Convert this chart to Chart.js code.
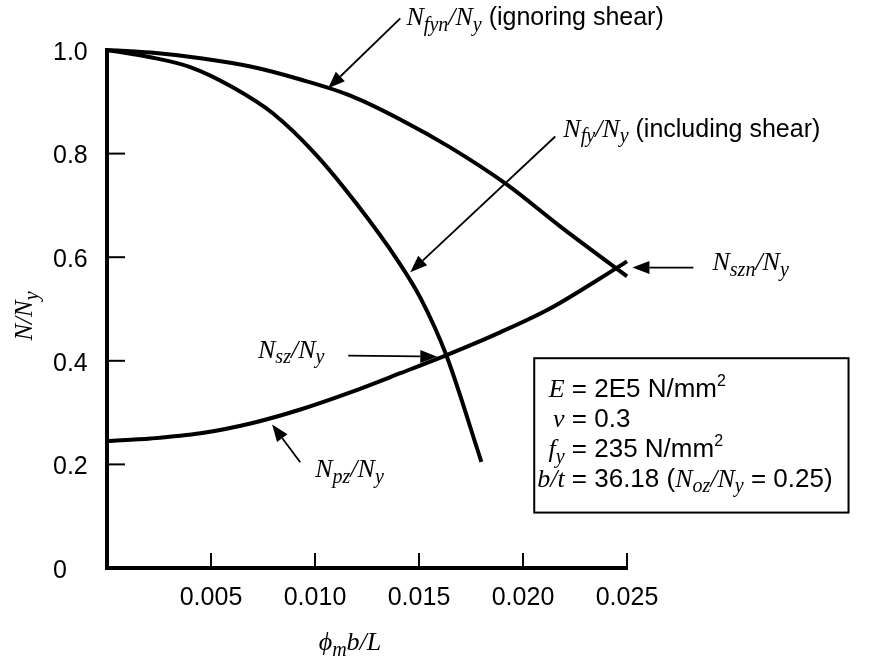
<!DOCTYPE html>
<html>
<head>
<meta charset="utf-8">
<title>N/Ny vs phi_m b/L</title>
<script src="https://cdn.jsdelivr.net/npm/chart.js@4.4.1/dist/chart.umd.min.js"></script>
<style>
  html, body { margin: 0; padding: 0; background: #fff; }
</style>
</head>
<body>
<canvas id="grafico" width="873" height="657"></canvas>
<script>
// values: x = phi_m b / L , y = N / Ny
const fynX = [0, 0.0021, 0.0045, 0.0069, 0.0093, 0.0117, 0.0141, 0.0165, 0.0192, 0.0218, 0.025]
const fynY = [1.0, 0.995, 0.984, 0.968, 0.943, 0.912, 0.866, 0.812, 0.741, 0.659, 0.563]

const fyX = [0, 0.0021, 0.0040, 0.0060, 0.0080, 0.0100, 0.0120, 0.0140, 0.0151, 0.0163, 0.0180]
const fyY = [1.0, 0.986, 0.967, 0.929, 0.877, 0.800, 0.703, 0.592, 0.519, 0.412, 0.205]

const pzX = [0, 0.0021, 0.0045, 0.0069, 0.0093, 0.0117, 0.0141, 0.0165, 0.0189, 0.0213, 0.0237, 0.025]
const pzY = [0.245, 0.250, 0.260, 0.279, 0.306, 0.339, 0.376, 0.414, 0.455, 0.501, 0.559, 0.592]

const xTickValues = [0, 0.005, 0.010, 0.015, 0.020, 0.025]
const xTickLabels = ['', '0.005', '0.010', '0.015', '0.020', '0.025']
const yTickValues = [0, 0.2, 0.4, 0.6, 0.8, 1.0]
const yTickLabels = ['0', '0.2', '0.4', '0.6', '0.8', '1.0']

const SERIF = '"Liberation Serif", "Times New Roman", serif'
const SANS = '"Liberation Sans", Arial, sans-serif'

// rich text pieces: i = italic serif, b = italic subscript, s = sans, p = sans superscript
const labelFyn = [['N', 'i'], ['fyn', 'b'], ['/N', 'i'], ['y', 'b'], [' (ignoring shear)', 's']]
const labelFy = [['N', 'i'], ['fy', 'b'], ['/N', 'i'], ['y', 'b'], [' (including shear)', 's']]
const labelSzn = [['N', 'i'], ['szn', 'b'], ['/N', 'i'], ['y', 'b']]
const labelSz = [['N', 'i'], ['sz', 'b'], ['/N', 'i'], ['y', 'b']]
const labelPz = [['N', 'i'], ['pz', 'b'], ['/N', 'i'], ['y', 'b']]

// arrows in data units: tail -> tip, with its label
const notas = [
  { tail: [0.01410, 1.061], tip: [0.01063, 0.926], at: [0.01440, 1.048], parts: labelFyn },
  { tail: [0.02155, 0.833], tip: [0.01458, 0.571], at: [0.02194, 0.833], parts: labelFy },
  { tail: [0.02819, 0.580], tip: [0.02526, 0.580], at: [0.02911, 0.575], parts: labelSzn },
  { tail: [0.01160, 0.410], tip: [0.01588, 0.408], at: [0.00726, 0.406], parts: labelSz },
  { tail: [0.00929, 0.204], tip: [0.00794, 0.277], at: [0.01001, 0.176], parts: labelPz }
]

const boxLines = [
  { left: [['E', 'i']], right: [[' = 2E5 N/mm', 's'], ['2', 'p']] },
  { left: [['\u03bd', 'i']], right: [[' = 0.3', 's']] },
  { left: [['f', 'i'], ['y', 'b']], right: [[' = 235 N/mm', 's'], ['2', 'p']] },
  { left: [['b/t', 'i']], right: [[' = 36.18 (', 's'], ['N', 'i'], ['oz', 'b'], ['/N', 'i'], ['y', 'b'], [' = 0.25)', 's']] }
]
const boxLineY = [0.331, 0.272, 0.214, 0.157]

const toPoints = (xs, ys) => xs.map((x, i) => ({ x, y: ys[i] }))

const fuentes = (size, sans) => ({
  i: `italic ${size}px ${SERIF}`,
  b: `italic ${Math.round(size * 0.78)}px ${SERIF}`,
  s: `${sans || size - 1}px ${SANS}`,
  p: `${Math.round(size * 0.6)}px ${SANS}`
})
const shift = (k, size) => k === 'b' ? size * 0.22 : (k === 'p' ? -size * 0.42 : 0)

const anchoTexto = (ctx, parts, size, sans) => {
  const f = fuentes(size, sans)
  let w = 0
  parts.forEach(([t, k]) => { ctx.font = f[k]; w += ctx.measureText(t).width })
  return w
}

const textoRico = (ctx, parts, x, y, size, align, sans) => {
  const f = fuentes(size, sans)
  const w = anchoTexto(ctx, parts, size, sans)
  let cx = align === 'right' ? x - w : (align === 'center' ? x - w / 2 : x)
  ctx.textAlign = 'left'
  ctx.textBaseline = 'alphabetic'
  parts.forEach(([t, k]) => {
    ctx.font = f[k]
    ctx.fillText(t, cx, y + shift(k, size))
    cx += ctx.measureText(t).width
  })
}

const flecha = (ctx, x1, y1, x2, y2) => {
  const ang = Math.atan2(y2 - y1, x2 - x1)
  const len = 17, half = 6.5
  const bx = x2 - len * Math.cos(ang), by = y2 - len * Math.sin(ang)
  ctx.lineWidth = 1.8
  ctx.beginPath()
  ctx.moveTo(x1, y1)
  ctx.lineTo(bx, by)
  ctx.stroke()
  ctx.beginPath()
  ctx.moveTo(x2, y2)
  ctx.lineTo(bx + half * Math.sin(ang), by - half * Math.cos(ang))
  ctx.lineTo(bx - half * Math.sin(ang), by + half * Math.cos(ang))
  ctx.closePath()
  ctx.fill()
}

const extras = {
  id: 'extras',
  afterDraw: (chart) => {
    const ctx = chart.ctx
    const xs = chart.scales.x, ys = chart.scales.y
    const px = (v) => xs.getPixelForValue(v)
    const py = (v) => ys.getPixelForValue(v)
    ctx.save()
    ctx.fillStyle = '#000'
    ctx.strokeStyle = '#000'

    // inward tick marks
    ctx.lineWidth = 2
    xTickValues.slice(1).forEach((v) => {
      ctx.beginPath(); ctx.moveTo(px(v), ys.bottom); ctx.lineTo(px(v), ys.bottom - 15); ctx.stroke()
    })
    yTickValues.slice(1, -1).forEach((v) => {
      ctx.beginPath(); ctx.moveTo(xs.left, py(v)); ctx.lineTo(xs.left + 18, py(v)); ctx.stroke()
    })

    // arrows + labels
    notas.forEach((n) => {
      flecha(ctx, px(n.tail[0]), py(n.tail[1]), px(n.tip[0]), py(n.tip[1]))
      textoRico(ctx, n.parts, px(n.at[0]), py(n.at[1]), 26)
    })

    // parameter box
    ctx.lineWidth = 2
    ctx.strokeRect(px(0.02054), py(0.405), px(0.03565) - px(0.02054), py(0.107) - py(0.405))
    boxLines.forEach((l, i) => {
      textoRico(ctx, l.left, px(0.02200), py(boxLineY[i]), 26, 'right', 26)
      textoRico(ctx, l.right, px(0.02200), py(boxLineY[i]), 26, 'left', 26)
    })

    // axis titles
    textoRico(ctx, [['\u03d5', 'i'], ['m', 'b'], ['b/L', 'i']], 350, 650, 26, 'center')
    ctx.translate(32, 316)
    ctx.rotate(-Math.PI / 2)
    textoRico(ctx, [['N/N', 'i'], ['y', 'b']], 0, 0, 25, 'center')
    ctx.restore()
  }
}

const grafico = document.getElementById('grafico')

const serie = (xs, ys) => ({
  data: toPoints(xs, ys),
  borderColor: '#000',
  borderWidth: 4,
  pointRadius: 0,
  fill: false,
  showLine: true,
  cubicInterpolationMode: 'monotone',
  clip: false
})

const config = {
  type: 'scatter',
  data: {
    datasets: [serie(fynX, fynY), serie(fyX, fyY), serie(pzX, pzY)]
  },
  options: {
    responsive: false,
    animation: false,
    events: [],
    layout: { padding: { left: 53, top: 50, right: 246, bottom: 0 } },
    plugins: { legend: { display: false }, tooltip: { enabled: false } },
    scales: {
      x: {
        type: 'linear',
        min: 0,
        max: 0.025,
        afterBuildTicks: (s) => { s.ticks = xTickValues.map((v) => ({ value: v })) },
        afterFit: (s) => { s.height = 89 },
        grid: { display: false, drawTicks: false },
        border: { display: true, color: '#000', width: 4 },
        ticks: {
          color: '#000',
          padding: 15,
          maxRotation: 0,
          font: { family: SANS, size: 25 },
          callback: (v, i) => xTickLabels[i]
        }
      },
      y: {
        type: 'linear',
        min: 0,
        max: 1,
        afterBuildTicks: (s) => { s.ticks = yTickValues.map((v) => ({ value: v })) },
        afterFit: (s) => { s.width = 54 },
        grid: { display: false, drawTicks: false },
        border: { display: true, color: '#000', width: 4 },
        ticks: {
          color: '#000',
          crossAlign: 'far',
          labelOffset: 3,
          font: { family: SANS, size: 25 },
          callback: (v, i) => yTickLabels[i]
        }
      }
    }
  },
  plugins: [extras]
}

const miChart = new Chart(grafico, config)
</script>
</body>
</html>
